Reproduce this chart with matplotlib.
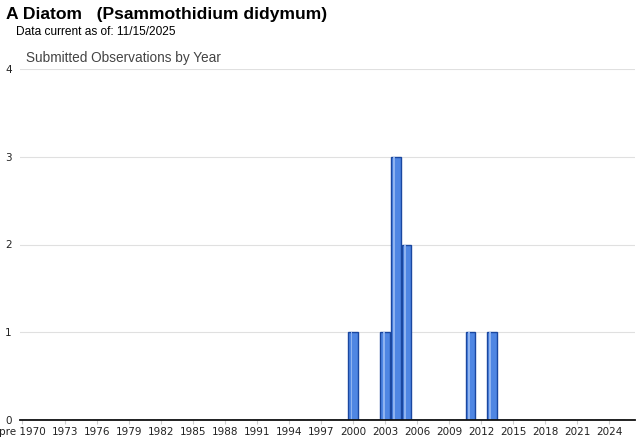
import matplotlib.pyplot as plt

# categories: pre 1970, then 1970..2025
years = ['pre 1970'] + [str(y) for y in range(1970, 2026)]
obs = {'2000': 1, '2003': 1, '2004': 3, '2005': 2, '2011': 1, '2013': 1}
counts = [obs.get(y, 0) for y in years]
tick_labels = ['pre 1970'] + [str(y) for y in range(1973, 2026, 3)]

fig = plt.figure(figsize=(6.4, 4.42), dpi=100)
ax = fig.add_axes([20/640, 22/442, 615/640, 351/442])

x = list(range(len(years)))
ax.bar(x, counts, width=0.92, color='#4f86e3', edgecolor='#1a47a0', linewidth=1.0, zorder=3)
# lighter highlight stripe inside bars
ax.bar([i - 0.15 for i in x], counts, width=0.18, color='#8fb3f0', linewidth=0, zorder=4)

ax.set_xlim(-0.2, 57.4)
ax.set_ylim(0, 4)
ax.set_yticks([0, 1, 2, 3, 4])
ax.yaxis.grid(True, color='#e0e0e0', linewidth=0.8, zorder=0)
ax.set_axisbelow(True)

tick_pos = [0] + [years.index(t) for t in tick_labels[1:]]
ax.set_xticks(tick_pos)
ax.set_xticklabels(tick_labels, fontsize=7.5, color='#222222')
ax.tick_params(axis='x', length=3, color='#cccccc', pad=2)
ax.tick_params(axis='y', length=0, labelsize=7.5, labelcolor='#222222', pad=6)

for s in ['top', 'right', 'left']:
    ax.spines[s].set_visible(False)
ax.spines['bottom'].set_color('#111111')
ax.spines['bottom'].set_linewidth(1.3)
ax.spines['bottom'].set_zorder(5)

fig.text(6/640, 1 - 15/442, 'A Diatom   (Psammothidium didymum)', fontsize=12.6, fontweight='bold',
         va='center', ha='left', family='Liberation Sans')
fig.text(16/640, 1 - 32/442, 'Data current as of: 11/15/2025', fontsize=8.6, va='center', ha='left',
         family='Liberation Sans')
fig.text(26/640, 1 - 58/442, 'Submitted Observations by Year', fontsize=9.8, color='#444444',
         va='center', ha='left', family='Liberation Sans')

fig.savefig('out.png', dpi=100)
